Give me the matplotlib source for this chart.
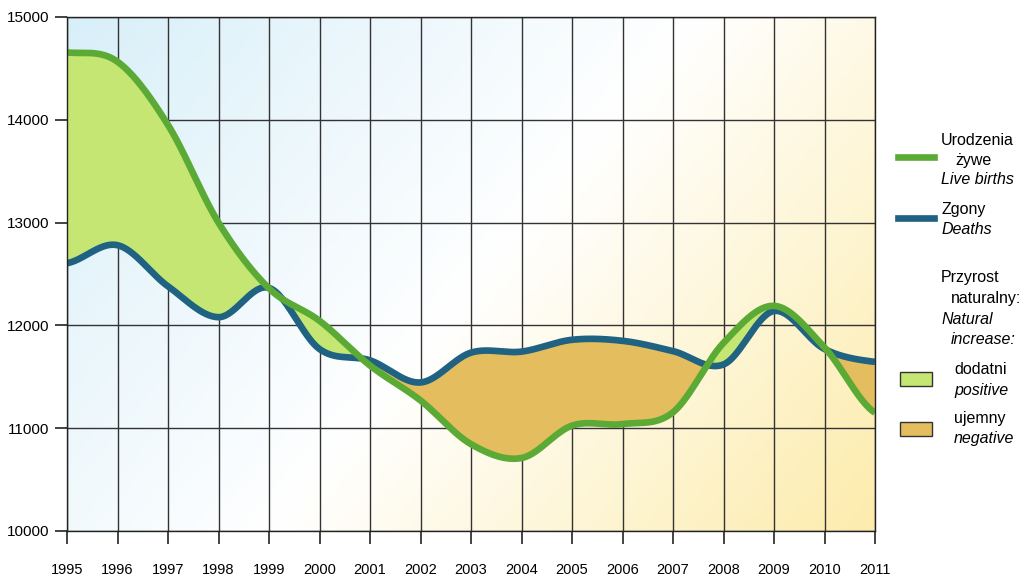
import numpy as np
import matplotlib
matplotlib.use("Agg")
import matplotlib.pyplot as plt
from matplotlib.colors import LinearSegmentedColormap
from matplotlib.patches import Rectangle
from matplotlib.lines import Line2D

plt.rcParams['font.family'] = ['Liberation Sans', 'DejaVu Sans']

years = [1995, 1996, 1997, 1998, 1999, 2000, 2001, 2002, 2003, 2004, 2005,
         2006, 2007, 2008, 2009, 2010, 2011]
births = [14655, 14565, 13950, 13000, 12360, 12045, 11610, 11270, 10845, 10710,
          11025, 11040, 11155, 11830, 12190, 11785, 11150]
deaths = [12605, 12780, 12380, 12080, 12365, 11770, 11660, 11445, 11735, 11745,
          11860, 11850, 11750, 11620, 12140, 11770, 11645]
yticks = [10000, 11000, 12000, 13000, 14000, 15000]

GREEN = '#5caa36'
BLUE = '#1f6282'
POS = '#c5e673'
NEG = '#e4bd5e'


def smooth(x, y, xn):
    """Catmull-Rom cubic Hermite curve through the data points."""
    x = np.asarray(x, float); y = np.asarray(y, float)
    n = len(x); h = np.diff(x)
    m = np.zeros(n)
    m[1:-1] = (y[2:] - y[:-2]) / (x[2:] - x[:-2])
    m[0] = (y[1] - y[0]) / h[0] * 0.5
    m[-1] = (y[-1] - y[-2]) / h[-1] * 0.5
    idx = np.clip(np.searchsorted(x, xn) - 1, 0, n - 2)
    t = (xn - x[idx]) / h[idx]
    h00 = 2 * t**3 - 3 * t**2 + 1; h10 = t**3 - 2 * t**2 + t
    h01 = -2 * t**3 + 3 * t**2; h11 = t**3 - t**2
    return h00 * y[idx] + h10 * h[idx] * m[idx] + h01 * y[idx + 1] + h11 * h[idx] * m[idx + 1]


fig = plt.figure(figsize=(10.25, 5.77), dpi=100)
ax = fig.add_axes([67 / 1025, 1 - 531 / 577, 808 / 1025, 514 / 577])

# background gradient (blue top-left -> white -> yellow bottom-right)
cmap = LinearSegmentedColormap.from_list('bg', [(0, '#d8eff9'), (0.51, '#ffffff'),
                                                (1, '#fdecac')])
gx, gy = np.meshgrid(np.linspace(0, 1, 300), np.linspace(0, 1, 300))
grad = (808 * gx + 428 * gy) / 1236
ax.imshow(grad, cmap=cmap, extent=[0, 1, 0, 1], transform=ax.transAxes,
          aspect='auto', origin='upper', zorder=0)

xs = np.linspace(years[0], years[-1], 3000)
bs = smooth(years, births, xs)
ds = smooth(years, deaths, xs)

ax.fill_between(xs, bs, ds, where=bs >= ds, interpolate=True, color=POS, lw=0, zorder=2)
ax.fill_between(xs, bs, ds, where=bs < ds, interpolate=True, color=NEG, lw=0, zorder=2)
ax.plot(xs, ds, color=BLUE, lw=4.8, zorder=4, solid_capstyle='butt')
ax.plot(xs, bs, color=GREEN, lw=4.8, zorder=5, solid_capstyle='butt')

ax.set_xlim(years[0], years[-1])
ax.set_ylim(10000, 15000)
ax.set_xticks(years)
ax.set_xticklabels([str(y) for y in years])
ax.set_yticks(yticks)
ax.grid(True, color='#333333', lw=1.0)
for l in ax.get_xgridlines() + ax.get_ygridlines():
    l.set_zorder(1.5)
for s in ax.spines.values():
    s.set_color('#222222'); s.set_linewidth(1.0); s.set_zorder(6)
ax.tick_params(axis='x', length=9, width=1.2, pad=14, labelsize=10.5, color='#222222')
ax.tick_params(axis='y', length=9, width=1.2, pad=4, labelsize=11, color='#222222')

# legend
W, H = 1025, 577
def fx(px): return px / W
def fy(py): return 1 - py / H
fs = 11.5
fig.add_artist(Line2D([fx(898), fx(934)], [fy(157), fy(157)], color=GREEN, lw=4.8))
fig.text(fx(941), fy(141), 'Urodzenia', fontsize=fs, va='center')
fig.text(fx(955), fy(161), 'żywe', fontsize=fs, va='center')
fig.text(fx(941), fy(180), 'Live births', fontsize=fs, va='center', style='italic')
fig.add_artist(Line2D([fx(898), fx(934)], [fy(218), fy(218)], color=BLUE, lw=4.8))
fig.text(fx(941), fy(209), 'Zgony', fontsize=fs, va='center')
fig.text(fx(941), fy(229), 'Deaths', fontsize=fs, va='center', style='italic')
fig.text(fx(941), fy(278), 'Przyrost', fontsize=fs, va='center')
fig.text(fx(951), fy(298), 'naturalny:', fontsize=fs, va='center')
fig.text(fx(941), fy(319), 'Natural', fontsize=fs, va='center', style='italic')
fig.text(fx(951), fy(339), 'increase:', fontsize=fs, va='center', style='italic')
fig.add_artist(Rectangle((fx(900), fy(386)), fx(32), 14 / H, facecolor=POS,
                         edgecolor='#333333', lw=1.0))
fig.text(fx(954), fy(370), 'dodatni', fontsize=fs, va='center')
fig.text(fx(954), fy(390), 'positive', fontsize=fs, va='center', style='italic')
fig.add_artist(Rectangle((fx(900), fy(436)), fx(32), 14 / H, facecolor=NEG,
                         edgecolor='#333333', lw=1.0))
fig.text(fx(954), fy(419), 'ujemny', fontsize=fs, va='center')
fig.text(fx(954), fy(439), 'negative', fontsize=fs, va='center', style='italic')

fig.savefig('out.png', dpi=100)
